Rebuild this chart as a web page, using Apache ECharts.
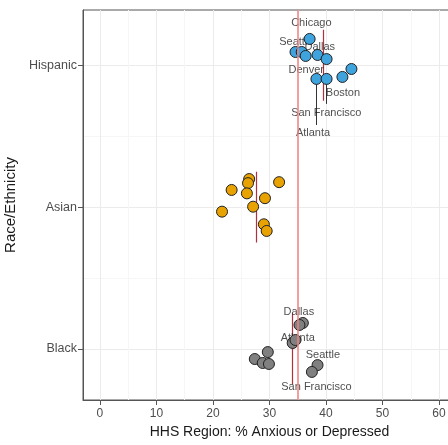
<!DOCTYPE html>
<html>
<head>
<meta charset="utf-8">
<script src="https://cdn.jsdelivr.net/npm/echarts@6/dist/echarts.min.js"></script>
<style>html,body{margin:0;padding:0;background:#fff}#c{width:448px;height:445px}</style>
</head>
<body>
<div id="c"></div>
<script>
// Categories (y positions 1,2,3)
const categories = ['Black', 'Asian', 'Hispanic'];
const xTicks = [0, 10, 20, 30, 40, 50, 60];
const xMinorTicks = [5, 15, 25, 35, 45, 55];
const yTicks = [1, 2, 3];
const yMinorTicks = [1.5, 2.5];

// Points: value (%) and jittered y position
const hispanicX = [37.1, 34.6, 35.7, 36.4, 38.5, 40.1, 38.3, 40.1, 42.9, 44.5];
const hispanicY = [3.186, 3.094, 3.094, 3.066, 3.073, 3.044, 2.904, 2.904, 2.918, 2.974];
const asianX = [26.4, 26.2, 26.0, 23.3, 21.6, 27.1, 29.2, 29.0, 29.5, 31.7];
const asianY = [2.198, 2.169, 2.097, 2.121, 1.968, 2.003, 2.063, 1.879, 1.832, 2.176];
const blackX = [35.9, 35.3, 34.1, 34.6, 38.5, 37.5, 29.7, 27.4, 28.8, 29.9];
const blackY = [1.183, 1.169, 1.042, 1.063, 0.886, 0.838, 0.978, 0.929, 0.901, 0.894];

// Labels (repelled text positions)
const labelNames = ['Chicago', 'Seattle', 'Dallas', 'Denver', 'Boston', 'San Francisco', 'Atlanta',
                    'Dallas', 'Atlanta', 'Seattle', 'San Francisco'];
const labelX = [37.4, 34.75, 38.9, 36.5, 43.0, 40.05, 37.7, 35.2, 35.0, 39.45, 38.3];
const labelY = [3.301, 3.167, 3.131, 2.967, 2.807, 2.661, 2.521, 1.262, 1.075, 0.958, 0.729];

// Leader segments: x, yFrom, yTo
const leaderX = [38.3, 40.1];
const leaderYFrom = [2.876, 2.876];
const leaderYTo = [2.579, 2.728];

// Group mean lines
const groupMean = [34.1, 27.7, 39.5];   // Black, Asian, Hispanic
const groupPos = [1, 2, 3];
const meanHalfWidth = 0.25;

// Overall reference
const overallRef = 35;

const zip = (xs, ys) => xs.map((x, i) => [x, ys[i]]);
const FONT = "'Liberation Sans', Arial, sans-serif";

const chart = echarts.init(document.getElementById('c'), null, {renderer: 'canvas'});
chart.setOption({
  animation: false,
  backgroundColor: '#fff',
  textStyle: {fontFamily: FONT},
  grid: {left: 83, right: -8, top: 10, bottom: 45, show: true, borderColor: '#555', borderWidth: 1,
         backgroundColor: '#fff', containLabel: false, outerBoundsMode: 'none'},
  xAxis: [{
    type: 'value', min: -3, max: 63,
    axisLine: {show: true, onZero: false, lineStyle: {color: '#555', width: 1}},
    axisTick: {show: true, customValues: xTicks, length: 5, lineStyle: {color: '#555'}},
    axisLabel: {customValues: xTicks, color: '#4d4d4d', fontSize: 12, margin: 8, fontFamily: FONT},
    splitLine: {show: true, lineStyle: {color: '#ebebeb', width: 1}},
    name: 'HHS Region: % Anxious or Depressed', nameLocation: 'middle', nameGap: 24,
    nameTextStyle: {fontSize: 14, color: '#1a1a1a', fontFamily: FONT}
  }, {
    type: 'value', min: -3, max: 63, position: 'bottom',
    axisLine: {show: false, onZero: false}, axisLabel: {show: false},
    axisTick: {show: false, customValues: xMinorTicks},
    splitLine: {show: true, lineStyle: {color: '#f6f6f6', width: 1}}
  }],
  yAxis: [{
    type: 'value', min: 0.64, max: 3.39,
    axisLine: {show: true, onZero: false, lineStyle: {color: '#555', width: 1}},
    axisTick: {show: true, customValues: yTicks, length: 5, lineStyle: {color: '#555'}},
    axisLabel: {customValues: yTicks, color: '#4d4d4d', fontSize: 12.5, margin: 6, fontFamily: FONT,
      formatter: v => categories[Math.round(v) - 1]},
    splitLine: {show: true, lineStyle: {color: '#ebebeb', width: 1}},
    name: 'Race/Ethnicity', nameLocation: 'middle', nameRotate: 90, nameGap: 59,
    nameTextStyle: {fontSize: 15, color: '#1a1a1a', fontFamily: FONT}
  }, {
    type: 'value', min: 0.64, max: 3.39, position: 'left',
    axisLine: {show: false, onZero: false}, axisLabel: {show: false},
    axisTick: {show: false, customValues: yMinorTicks},
    splitLine: {show: true, lineStyle: {color: '#f6f6f6', width: 1}}
  }],
  series: [
    {
      type: 'lines', coordinateSystem: 'cartesian2d', z: 1, silent: true,
      polyline: false,
      lineStyle: {color: '#b03040', width: 1.2, opacity: 1},
      data: groupMean.map((m, i) => ({coords: [[m, groupPos[i] - meanHalfWidth], [m, groupPos[i] + meanHalfWidth]]})),
      markLine: {
        silent: true, symbol: 'none', label: {show: false},
        lineStyle: {color: '#f08080', width: 1.5, type: 'solid'},
        data: [{xAxis: overallRef}]
      }
    },
    {
      type: 'lines', coordinateSystem: 'cartesian2d', z: 1, silent: true,
      lineStyle: {color: '#333', width: 1, opacity: 1},
      data: leaderX.map((x, i) => ({coords: [[x, leaderYFrom[i]], [x, leaderYTo[i]]]}))
    },
    {
      type: 'scatter', z: 2, symbolSize: 0, silent: true,
      data: labelNames.map((n, i) => ({name: n, value: [labelX[i], labelY[i]]})),
      label: {show: true, position: 'inside', formatter: p => p.name, color: '#222', fontSize: 11, fontFamily: FONT}
    },
    {
      name: 'Hispanic', type: 'scatter', z: 3, symbolSize: 11,
      itemStyle: {color: '#3fa4dd', borderColor: '#222', borderWidth: 1, opacity: 1},
      data: zip(hispanicX, hispanicY)
    },
    {
      name: 'Asian', type: 'scatter', z: 3, symbolSize: 11,
      itemStyle: {color: '#e8a202', borderColor: '#222', borderWidth: 1, opacity: 1},
      data: zip(asianX, asianY)
    },
    {
      name: 'Black', type: 'scatter', z: 3, symbolSize: 11,
      itemStyle: {color: '#808080', borderColor: '#222', borderWidth: 1, opacity: 1},
      data: zip(blackX, blackY)
    }
  ]
});
</script>
</body>
</html>
